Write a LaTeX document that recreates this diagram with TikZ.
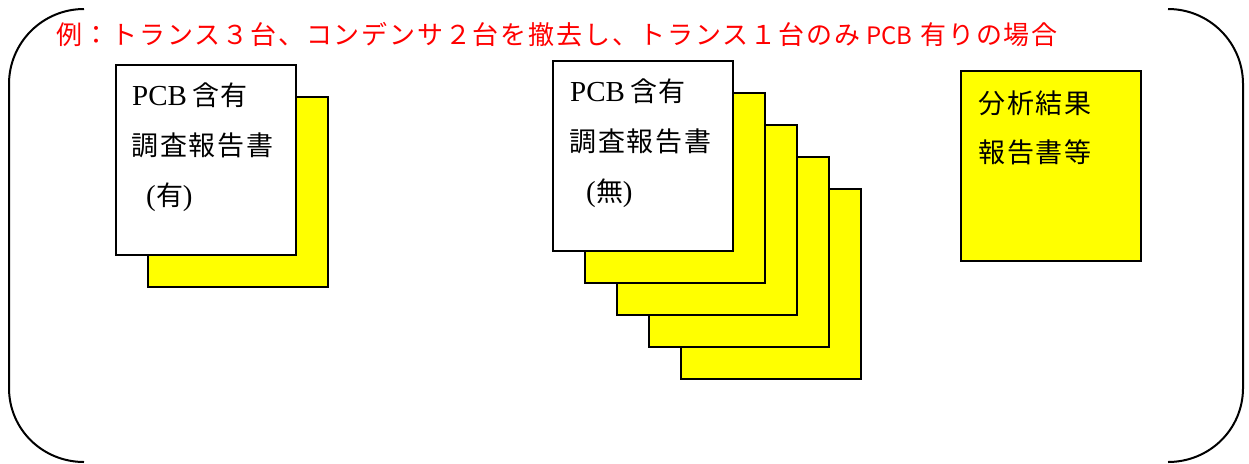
\documentclass[tikz,border=0pt]{standalone}
\usepackage{fontspec}
\newfontfamily\cjk{Noto Sans CJK JP}
\newfontfamily\cjkls{Noto Sans CJK JP}[LetterSpace=7]
\newfontfamily\cjkt{Noto Sans CJK JP}[LetterSpace=7]
\newfontfamily\tser{Liberation Serif}
\definecolor{yel}{RGB}{255,255,0}
\definecolor{titlered}{RGB}{255,0,0}
\begin{document}
\begin{tikzpicture}[x=1pt,y=-1pt,
  paper/.style={draw=black, line width=1.3pt, minimum width=180pt, minimum height=190pt, inner sep=0pt, outer sep=0pt},
  whitepaper/.style={paper, fill=white},
  yellowpaper/.style={paper, fill=yel},
  txt/.style={anchor=base west, inner sep=0pt, font=\fontsize{27}{30}\selectfont\cjkls},
  frame/.style={line width=2pt, draw=black}]
\useasboundingbox (0,0) rectangle (1249,463);
% frame (corner arcs and sides)
\draw[frame] (84,9) .. controls (42.6,9) and (9,42.6) .. (9,84) -- (9,388) .. controls (9,429.4) and (42.6,462) .. (84,462);
\draw[frame] (1168,9) .. controls (1209.4,9) and (1243,42.6) .. (1243,84) -- (1243,388) .. controls (1243,429.4) and (1209.4,462) .. (1168,462);
% title
\node[anchor=base west, inner sep=0pt, text=titlered, font=\fontsize{26}{30}\selectfont] (title) at (56,44)
  {{\cjkt 例：トランス３台、コンデンサ２台を撤去し、トランス１台のみ}\hspace{6pt}{\cjk\fontsize{24}{30}\selectfont PCB}\hspace{8pt}{\cjkt 有りの場合}};
% left group
\node[yellowpaper] (ly) at (238,192) {};
\node[whitepaper] (lw) at (206,160) {};
\node[txt] (l1) at (132,105) {{\tser\fontsize{29}{30}\selectfont PCB}\hspace{5pt}含有};
\node[txt] (l2) at (131,155) {調査報告書};
\node[txt] (l3) at (146,205) {{\tser\fontsize{29}{30}\selectfont(}\hspace{1pt}有\hspace{-1pt}{\tser\fontsize{29}{30}\selectfont)}};
% middle group
\node[yellowpaper] (my4) at (771,284) {};
\node[yellowpaper] (my3) at (739,252) {};
\node[yellowpaper] (my2) at (707,220) {};
\node[yellowpaper] (my1) at (675,188) {};
\node[whitepaper] (mw) at (643,156) {};
\node[txt] (m1) at (570,101) {{\tser\fontsize{29}{30}\selectfont PCB}\hspace{5pt}含有};
\node[txt] (m2) at (569,151) {調査報告書};
\node[txt] (m3) at (586,201) {{\tser\fontsize{29}{30}\selectfont(}\hspace{1pt}無\hspace{-1pt}{\tser\fontsize{29}{30}\selectfont)}};
% right box
\node[yellowpaper] (ry) at (1051,166) {};
\node[txt] (r1) at (978,113) {分析結果};
\node[txt] (r2) at (978,162) {報告書等};
\end{tikzpicture}
\end{document}
